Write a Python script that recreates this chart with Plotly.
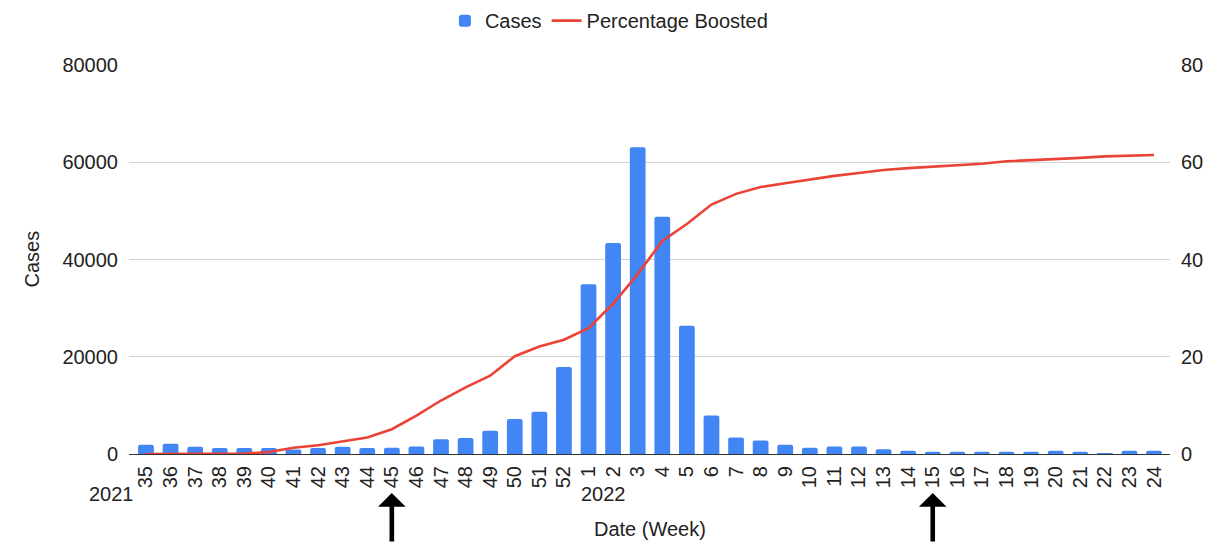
import plotly.graph_objects as go

# ISO weeks from 2021-W35 to 2022-W24
weeks = [str(w) for w in range(35, 53)] + [str(w) for w in range(1, 25)]

# Weekly case counts
cases = [1900, 2100, 1500, 1250, 1250, 1250, 900, 1250, 1500, 1250,
         1270, 1550, 3050, 3300, 4800, 7200, 8700, 17900,
         34900, 43400, 63100, 48800, 26400, 7900, 3400, 2800, 1900, 1300,
         1550, 1550, 1000, 650, 450, 450, 450, 450, 450, 650, 450, 150,
         650, 650]

# Share of population with a booster dose (%)
boosted = [0, 0, 0, 0, 0.1, 0.4, 1.3, 1.8, 2.6, 3.4, 5.1, 7.9, 11.0, 13.7,
           16.1, 20.1, 22.1, 23.5,
           25.9, 30.9, 37.0, 43.8, 47.3, 51.3, 53.5, 54.9, 55.7, 56.5, 57.2,
           57.8, 58.4, 58.8, 59.1, 59.4, 59.7, 60.2, 60.4, 60.7, 60.9, 61.2,
           61.3, 61.5]

# Year markers and highlighted weeks
year_labels = [("2021", "35"), ("2022", "1")]
marked_weeks = ["45", "15"]

FONT = "Arial, Liberation Sans, sans-serif"
TXT = "#222222"

fig = go.Figure()
fig.add_trace(go.Bar(
    x=weeks, y=cases, name="Cases",
    marker=dict(color="#4285F4", line=dict(width=0), cornerradius=2),
    width=0.64, yaxis="y",
))
fig.add_trace(go.Scatter(
    x=weeks, y=boosted, name="Percentage Boosted", mode="lines",
    line=dict(color="#EA4335", width=2.6), yaxis="y2",
))

idx = {w: i for i, w in enumerate(weeks)}
annotations = []
for label, wk in year_labels:
    annotations.append(dict(
        x=idx[wk], y=-0.1035, xref="x", yref="paper", text=label,
        showarrow=False, xanchor="center", yanchor="middle",
        xshift=-34 if wk == "35" else 15,
        font=dict(size=20, color=TXT, family=FONT),
    ))
for wk in marked_weeks:
    annotations.append(dict(
        x=idx[wk], y=-0.1003, xref="x", yref="paper", text="",
        showarrow=True, arrowhead=1, arrowsize=1.0, arrowwidth=4.6,
        arrowcolor="#000000", ax=0, ay=60,
    ))
annotations.append(dict(
    x=0.5, y=-0.1928, xref="paper", yref="paper", text="Date (Week)",
    showarrow=False, yanchor="middle",
    font=dict(size=20, color=TXT, family=FONT),
))
annotations.append(dict(
    x=-0.1066, y=0.5, xref="paper", yref="paper", text="Cases",
    textangle=-90, showarrow=False,
    font=dict(size=20, color=TXT, family=FONT),
))

fig.update_layout(
    width=1216, height=543,
    margin=dict(l=129, r=46, t=65, b=89),
    paper_bgcolor="white", plot_bgcolor="white",
    font=dict(family=FONT, size=20, color=TXT),
    showlegend=True,
    legend=dict(orientation="h", x=0.461, xanchor="center",
                yref="container", y=0.962, yanchor="middle",
                font=dict(size=20, color=TXT),
                itemwidth=30, traceorder="normal"),
    xaxis=dict(type="category", range=[-0.69, 41.65], tickangle=-90,
               showgrid=False, showline=True, linecolor="#333333",
               linewidth=1, ticks="", ticklabelstandoff=3,
               tickfont=dict(size=20, color=TXT), fixedrange=True),
    yaxis=dict(range=[0, 80000], tickvals=[0, 20000, 40000, 60000, 80000],
               ticktext=["0", "20000", "40000", "60000", "80000"],
               showgrid=True, gridcolor="#d3d3d3", gridwidth=1,
               zeroline=False, ticks="", ticklabelstandoff=10,
               tickfont=dict(size=20, color=TXT)),
    yaxis2=dict(range=[0, 80], tickvals=[0, 20, 40, 60, 80],
                overlaying="y", side="right", showgrid=False,
                zeroline=False, ticks="", ticklabelstandoff=10,
                tickfont=dict(size=20, color=TXT)),
    annotations=annotations,
)

fig.write_html("out.html")
